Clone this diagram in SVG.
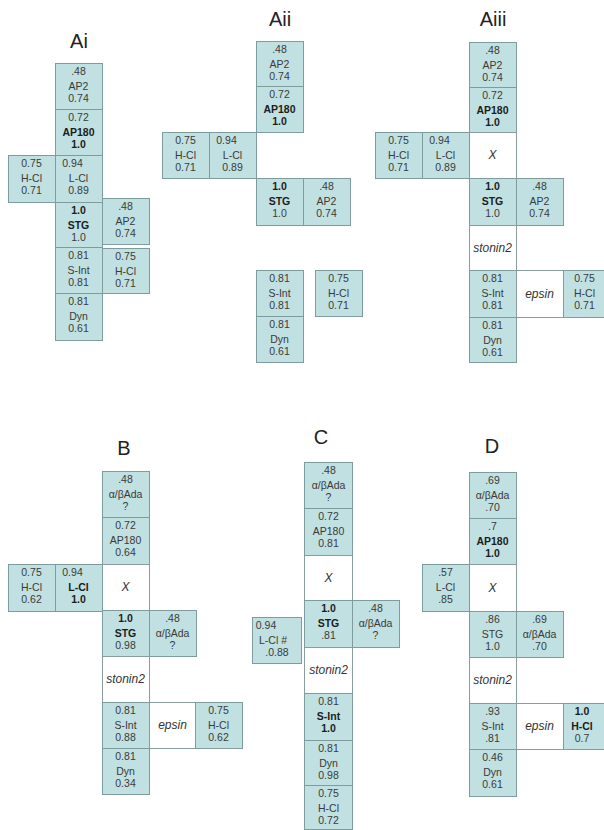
<svg xmlns="http://www.w3.org/2000/svg" width="604" height="830" viewBox="0 0 604 830">
<style>
.b{fill:#c1e0e1;stroke:#7e9c9d;stroke-width:1}
.w{fill:#ffffff;stroke:#8a9c9c;stroke-width:1}
.t{font-family:"Liberation Sans Narrow","Liberation Sans",Arial,sans-serif;font-size:10.5px;fill:#3a3a3a;text-anchor:middle}
.k{font-weight:bold;fill:#1c1c1c}
.i{font-family:"Liberation Sans",Arial,sans-serif;font-style:italic;font-size:12px;fill:#333;text-anchor:middle}
.ttl{font-family:"Liberation Sans",Arial,sans-serif;font-size:20px;fill:#222;text-anchor:middle}
</style>
<rect width="604" height="830" fill="#ffffff"/>

<g id="titles">
<text class="ttl" x="79" y="48">Ai</text>
<text class="ttl" x="280" y="26">Aii</text>
<text class="ttl" x="493" y="26">Aiii</text>
<text class="ttl" x="124" y="455">B</text>
<text class="ttl" x="321" y="444">C</text>
<text class="ttl" x="492" y="453">D</text>
</g>

<!-- Ai -->
<g id="Ai-AP2"><rect class="b" x="55.5" y="63.5" width="47" height="46"/><text class="t" x="78.5" y="75">.48</text><text class="t" x="78.5" y="90">AP2</text><text class="t" x="78.5" y="102">0.74</text></g>
<g id="Ai-AP180"><rect class="b" x="55.5" y="109.5" width="47" height="46"/><text class="t" x="78.5" y="121">0.72</text><text class="t k" x="78.5" y="136">AP180</text><text class="t k" x="78.5" y="148">1.0</text></g>
<g id="Ai-LCl"><rect class="b" x="55.5" y="155.5" width="47" height="47"/><text class="t" x="72.5" y="167">0.94</text><text class="t" x="78.5" y="182">L-Cl</text><text class="t" x="78.5" y="194">0.89</text></g>
<g id="Ai-HCl-left"><rect class="b" x="8.5" y="155.5" width="47" height="47"/><text class="t" x="31.5" y="167">0.75</text><text class="t" x="31.5" y="182">H-Cl</text><text class="t" x="31.5" y="194">0.71</text></g>
<g id="Ai-STG"><rect class="b" x="55.5" y="202.5" width="47" height="45"/><text class="t k" x="78.5" y="214">1.0</text><text class="t k" x="78.5" y="229">STG</text><text class="t" x="78.5" y="241">1.0</text></g>
<g id="Ai-AP2-right"><rect class="b" x="102.5" y="198.5" width="47" height="46"/><text class="t" x="125.5" y="210">.48</text><text class="t" x="125.5" y="225">AP2</text><text class="t" x="125.5" y="237">0.74</text></g>
<g id="Ai-SInt"><rect class="b" x="55.5" y="247.5" width="47" height="46"/><text class="t" x="78.5" y="259">0.81</text><text class="t" x="78.5" y="274">S-Int</text><text class="t" x="78.5" y="286">0.81</text></g>
<g id="Ai-HCl-right"><rect class="b" x="102.5" y="248.5" width="47" height="45"/><text class="t" x="125.5" y="260">0.75</text><text class="t" x="125.5" y="275">H-Cl</text><text class="t" x="125.5" y="287">0.71</text></g>
<g id="Ai-Dyn"><rect class="b" x="55.5" y="293.5" width="47" height="47"/><text class="t" x="78.5" y="305">0.81</text><text class="t" x="78.5" y="320">Dyn</text><text class="t" x="78.5" y="332">0.61</text></g>

<!-- Aii -->
<g id="Aii-AP2"><rect class="b" x="256.5" y="41.5" width="47" height="45"/><text class="t" x="279.5" y="53">.48</text><text class="t" x="279.5" y="68">AP2</text><text class="t" x="279.5" y="80">0.74</text></g>
<g id="Aii-AP180"><rect class="b" x="256.5" y="86.5" width="47" height="46"/><text class="t" x="279.5" y="98">0.72</text><text class="t k" x="279.5" y="113">AP180</text><text class="t k" x="279.5" y="125">1.0</text></g>
<g id="Aii-HCl"><rect class="b" x="162.5" y="132.5" width="47" height="46"/><text class="t" x="185.5" y="144">0.75</text><text class="t" x="185.5" y="159">H-Cl</text><text class="t" x="185.5" y="171">0.71</text></g>
<g id="Aii-LCl"><rect class="b" x="209.5" y="132.5" width="47" height="46"/><text class="t" x="226.5" y="144">0.94</text><text class="t" x="232.5" y="159">L-Cl</text><text class="t" x="232.5" y="171">0.89</text></g>
<g id="Aii-STG"><rect class="b" x="256.5" y="178.5" width="47" height="47"/><text class="t k" x="279.5" y="190">1.0</text><text class="t k" x="279.5" y="205">STG</text><text class="t" x="279.5" y="217">1.0</text></g>
<g id="Aii-AP2-right"><rect class="b" x="303.5" y="178.5" width="47" height="47"/><text class="t" x="326.5" y="190">.48</text><text class="t" x="326.5" y="205">AP2</text><text class="t" x="326.5" y="217">0.74</text></g>
<g id="Aii-SInt"><rect class="b" x="256.5" y="270.5" width="47" height="46"/><text class="t" x="279.5" y="282">0.81</text><text class="t" x="279.5" y="297">S-Int</text><text class="t" x="279.5" y="309">0.81</text></g>
<g id="Aii-HCl-right"><rect class="b" x="315.5" y="270.5" width="47" height="46"/><text class="t" x="338.5" y="282">0.75</text><text class="t" x="338.5" y="297">H-Cl</text><text class="t" x="338.5" y="309">0.71</text></g>
<g id="Aii-Dyn"><rect class="b" x="256.5" y="316.5" width="47" height="46"/><text class="t" x="279.5" y="328">0.81</text><text class="t" x="279.5" y="343">Dyn</text><text class="t" x="279.5" y="355">0.61</text></g>

<!-- Aiii -->
<g id="Aiii-AP2"><rect class="b" x="469.5" y="42.5" width="47" height="45"/><text class="t" x="492.5" y="54">.48</text><text class="t" x="492.5" y="69">AP2</text><text class="t" x="492.5" y="81">0.74</text></g>
<g id="Aiii-AP180"><rect class="b" x="469.5" y="87.5" width="47" height="45"/><text class="t" x="492.5" y="99">0.72</text><text class="t k" x="492.5" y="114">AP180</text><text class="t k" x="492.5" y="126">1.0</text></g>
<g id="Aiii-X"><rect class="w" x="469.5" y="132.5" width="47" height="46"/><text class="i" x="492.5" y="159">X</text></g>
<g id="Aiii-LCl"><rect class="b" x="422.5" y="132.5" width="47" height="46"/><text class="t" x="439.5" y="144">0.94</text><text class="t" x="445.5" y="159">L-Cl</text><text class="t" x="445.5" y="171">0.89</text></g>
<g id="Aiii-HCl"><rect class="b" x="375.5" y="132.5" width="47" height="46"/><text class="t" x="398.5" y="144">0.75</text><text class="t" x="398.5" y="159">H-Cl</text><text class="t" x="398.5" y="171">0.71</text></g>
<g id="Aiii-STG"><rect class="b" x="469.5" y="178.5" width="47" height="47"/><text class="t k" x="492.5" y="190">1.0</text><text class="t k" x="492.5" y="205">STG</text><text class="t" x="492.5" y="217">1.0</text></g>
<g id="Aiii-AP2-right"><rect class="b" x="516.5" y="178.5" width="47" height="47"/><text class="t" x="539.5" y="190">.48</text><text class="t" x="539.5" y="205">AP2</text><text class="t" x="539.5" y="217">0.74</text></g>
<g id="Aiii-stonin2"><rect class="w" x="469.5" y="225.5" width="47" height="45"/><text class="i" x="492.5" y="252">stonin2</text></g>
<g id="Aiii-SInt"><rect class="b" x="469.5" y="270.5" width="47" height="47"/><text class="t" x="492.5" y="282">0.81</text><text class="t" x="492.5" y="297">S-Int</text><text class="t" x="492.5" y="309">0.81</text></g>
<g id="Aiii-epsin"><rect class="w" x="516.5" y="270.5" width="47" height="47"/><text class="i" x="539.5" y="298">epsin</text></g>
<g id="Aiii-HCl-right"><rect class="b" x="563.5" y="270.5" width="41" height="47"/><text class="t" x="584.5" y="282">0.75</text><text class="t" x="584.5" y="297">H-Cl</text><text class="t" x="584.5" y="309">0.71</text></g>
<g id="Aiii-Dyn"><rect class="b" x="469.5" y="317.5" width="47" height="45"/><text class="t" x="492.5" y="329">0.81</text><text class="t" x="492.5" y="344">Dyn</text><text class="t" x="492.5" y="356">0.61</text></g>

<!-- B -->
<g id="B-Ada"><rect class="b" x="102.5" y="471.5" width="47" height="46"/><text class="t" x="125.5" y="483">.48</text><text class="t" x="125.5" y="498">α/βAda</text><text class="t" x="125.5" y="510">?</text></g>
<g id="B-AP180"><rect class="b" x="102.5" y="517.5" width="47" height="47"/><text class="t" x="125.5" y="529">0.72</text><text class="t" x="125.5" y="544">AP180</text><text class="t" x="125.5" y="556">0.64</text></g>
<g id="B-X"><rect class="w" x="102.5" y="564.5" width="47" height="46"/><text class="i" x="125.5" y="591">X</text></g>
<g id="B-LCl"><rect class="b" x="55.5" y="564.5" width="47" height="47"/><text class="t" x="72.5" y="576">0.94</text><text class="t k" x="78.5" y="591">L-Cl</text><text class="t k" x="78.5" y="603">1.0</text></g>
<g id="B-HCl"><rect class="b" x="8.5" y="564.5" width="47" height="47"/><text class="t" x="31.5" y="576">0.75</text><text class="t" x="31.5" y="591">H-Cl</text><text class="t" x="31.5" y="603">0.62</text></g>
<g id="B-STG"><rect class="b" x="102.5" y="610.5" width="47" height="46"/><text class="t k" x="125.5" y="622">1.0</text><text class="t k" x="125.5" y="637">STG</text><text class="t" x="125.5" y="649">0.98</text></g>
<g id="B-Ada-right"><rect class="b" x="149.5" y="610.5" width="47" height="46"/><text class="t" x="172.5" y="622">.48</text><text class="t" x="172.5" y="637">α/βAda</text><text class="t" x="172.5" y="649">?</text></g>
<g id="B-stonin2"><rect class="w" x="102.5" y="656.5" width="47" height="46"/><text class="i" x="125.5" y="683">stonin2</text></g>
<g id="B-SInt"><rect class="b" x="102.5" y="702.5" width="47" height="46"/><text class="t" x="125.5" y="714">0.81</text><text class="t" x="125.5" y="729">S-Int</text><text class="t" x="125.5" y="741">0.88</text></g>
<g id="B-epsin"><rect class="w" x="149.5" y="702.5" width="46" height="46"/><text class="i" x="172.5" y="729">epsin</text></g>
<g id="B-HCl-right"><rect class="b" x="195.5" y="702.5" width="47" height="46"/><text class="t" x="218.5" y="714">0.75</text><text class="t" x="218.5" y="729">H-Cl</text><text class="t" x="218.5" y="741">0.62</text></g>
<g id="B-Dyn"><rect class="b" x="102.5" y="748.5" width="47" height="46"/><text class="t" x="125.5" y="760">0.81</text><text class="t" x="125.5" y="775">Dyn</text><text class="t" x="125.5" y="787">0.34</text></g>

<!-- C -->
<g id="C-Ada"><rect class="b" x="304.5" y="462.5" width="48" height="46"/><text class="t" x="328.5" y="474">.48</text><text class="t" x="328.5" y="489">α/βAda</text><text class="t" x="328.5" y="501">?</text></g>
<g id="C-AP180"><rect class="b" x="304.5" y="508.5" width="48" height="47"/><text class="t" x="328.5" y="520">0.72</text><text class="t" x="328.5" y="535">AP180</text><text class="t" x="328.5" y="547">0.81</text></g>
<g id="C-X"><rect class="w" x="304.5" y="555.5" width="48" height="45"/><text class="i" x="328.5" y="582">X</text></g>
<g id="C-STG"><rect class="b" x="304.5" y="600.5" width="48" height="47"/><text class="t k" x="328.5" y="612">1.0</text><text class="t k" x="328.5" y="627">STG</text><text class="t" x="328.5" y="639">.81</text></g>
<g id="C-Ada-right"><rect class="b" x="352.5" y="600.5" width="47" height="47"/><text class="t" x="375.5" y="612">.48</text><text class="t" x="375.5" y="627">α/βAda</text><text class="t" x="375.5" y="639">?</text></g>
<g id="C-stonin2"><rect class="w" x="304.5" y="647.5" width="48" height="46"/><text class="i" x="328.5" y="674">stonin2</text></g>
<g id="C-LCl"><rect class="b" x="252.5" y="617.5" width="49" height="46"/><text class="t" x="266" y="629">0.94</text><text class="t" x="273" y="644">L-Cl #</text><text class="t" x="277" y="656">.0.88</text></g>
<g id="C-SInt"><rect class="b" x="304.5" y="693.5" width="48" height="47"/><text class="t" x="328.5" y="705">0.81</text><text class="t k" x="328.5" y="720">S-Int</text><text class="t k" x="328.5" y="732">1.0</text></g>
<g id="C-Dyn"><rect class="b" x="304.5" y="740.5" width="48" height="45"/><text class="t" x="328.5" y="752">0.81</text><text class="t" x="328.5" y="767">Dyn</text><text class="t" x="328.5" y="779">0.98</text></g>
<g id="C-HCl"><rect class="b" x="304.5" y="785.5" width="48" height="44"/><text class="t" x="328.5" y="797">0.75</text><text class="t" x="328.5" y="812">H-Cl</text><text class="t" x="328.5" y="824">0.72</text></g>

<!-- D -->
<g id="D-Ada"><rect class="b" x="469.5" y="472.5" width="47" height="46"/><text class="t" x="492.5" y="484">.69</text><text class="t" x="492.5" y="499">α/βAda</text><text class="t" x="492.5" y="511">.70</text></g>
<g id="D-AP180"><rect class="b" x="469.5" y="518.5" width="47" height="46"/><text class="t" x="492.5" y="530">.7</text><text class="t k" x="492.5" y="545">AP180</text><text class="t k" x="492.5" y="557">1.0</text></g>
<g id="D-X"><rect class="w" x="469.5" y="564.5" width="47" height="47"/><text class="i" x="492.5" y="592">X</text></g>
<g id="D-LCl"><rect class="b" x="422.5" y="564.5" width="47" height="47"/><text class="t" x="445.5" y="576">.57</text><text class="t" x="445.5" y="591">L-Cl</text><text class="t" x="445.5" y="603">.85</text></g>
<g id="D-STG"><rect class="b" x="469.5" y="611.5" width="47" height="46"/><text class="t" x="492.5" y="623">.86</text><text class="t" x="492.5" y="638">STG</text><text class="t" x="492.5" y="650">1.0</text></g>
<g id="D-Ada-right"><rect class="b" x="516.5" y="611.5" width="47" height="46"/><text class="t" x="539.5" y="623">.69</text><text class="t" x="539.5" y="638">α/βAda</text><text class="t" x="539.5" y="650">.70</text></g>
<g id="D-stonin2"><rect class="w" x="469.5" y="657.5" width="47" height="46"/><text class="i" x="492.5" y="684">stonin2</text></g>
<g id="D-SInt"><rect class="b" x="469.5" y="703.5" width="47" height="46"/><text class="t" x="492.5" y="715">.93</text><text class="t" x="492.5" y="730">S-Int</text><text class="t" x="492.5" y="742">.81</text></g>
<g id="D-epsin"><rect class="w" x="516.5" y="703.5" width="47" height="46"/><text class="i" x="539.5" y="730">epsin</text></g>
<g id="D-HCl"><rect class="b" x="563.5" y="703.5" width="41" height="46"/><text class="t k" x="582" y="715">1.0</text><text class="t k" x="582" y="730">H-Cl</text><text class="t" x="582" y="742">0.7</text></g>
<g id="D-Dyn"><rect class="b" x="469.5" y="749.5" width="47" height="47"/><text class="t" x="492.5" y="761">0.46</text><text class="t" x="492.5" y="776">Dyn</text><text class="t" x="492.5" y="788">0.61</text></g>
</svg>
